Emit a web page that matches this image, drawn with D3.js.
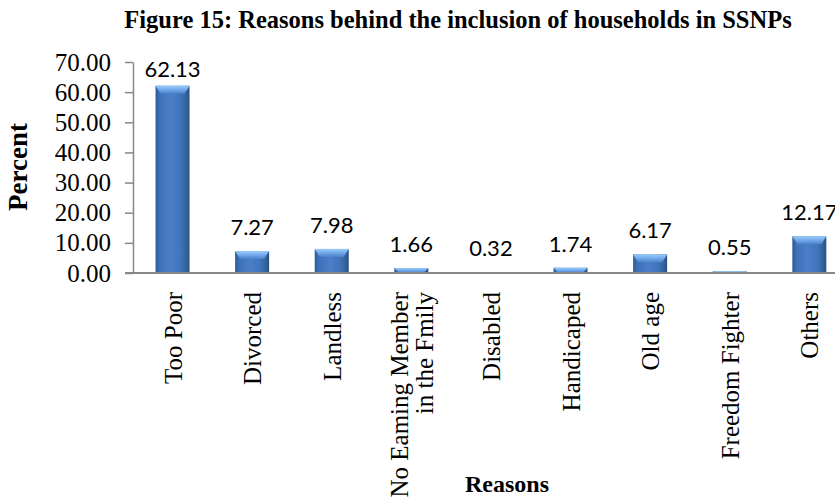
<!DOCTYPE html>
<html>
<head>
<meta charset="utf-8">
<script src="https://cdn.jsdelivr.net/npm/d3@7"></script>
<style>
  body { margin: 0; background: #fff; }
  svg { display: block; }
</style>
</head>
<body>
<svg id="chart" width="835" height="501"></svg>
<script>
// Reasons for inclusion of households in SSNPs (percent)
const categories = [
  ["Too Poor"],
  ["Divorced"],
  ["Landless"],
  ["No Eaming Member", "in the Fmily"],
  ["Disabled"],
  ["Handicaped"],
  ["Old age"],
  ["Freedom Fighter"],
  ["Others"]
];
const values = [62.13, 7.27, 7.98, 1.66, 0.32, 1.74, 6.17, 0.55, 12.17];
const yTicks = [0, 10, 20, 30, 40, 50, 60, 70];

const serif = "'Liberation Serif', 'Times New Roman', serif";
const svg = d3.select("#chart");
const plotLeft = 133, plotTop = 62, plotBottom = 273;
const step = 79.6;

const x = d3.scaleBand()
  .domain(d3.range(categories.length))
  .range([plotLeft, plotLeft + step * 8.993])
  .paddingInner(0.573)
  .paddingOuter(0.283);

const y = d3.scaleLinear().domain([0, 70]).range([plotBottom, plotTop]);

// Bar fill: darker sides, lighter centre, plus a lighter bevel on top
const defs = svg.append("defs");
const g1 = defs.append("linearGradient").attr("id", "barGrad")
  .attr("x1", "0").attr("x2", "1").attr("y1", "0").attr("y2", "0");
[[0, "#2c5a97"], [0.12, "#3e70b6"], [0.45, "#4a80c8"], [0.75, "#3f73bb"], [0.9, "#336399"], [1, "#284f85"]]
  .forEach(([o, c]) => g1.append("stop").attr("offset", o).attr("stop-color", c));
const g2 = defs.append("linearGradient").attr("id", "capGrad")
  .attr("x1", "0").attr("x2", "0").attr("y1", "0").attr("y2", "1");
[[0, "#9accf8"], [0.5, "#70a8ea"], [1, "#4a80c8"]]
  .forEach(([o, c]) => g2.append("stop").attr("offset", o).attr("stop-color", c));

// y axis
const yAxis = d3.axisLeft(y).tickValues(yTicks)
  .tickFormat(d3.format(".2f")).tickSize(8).tickSizeOuter(0);
const ya = svg.append("g").attr("transform", `translate(${plotLeft},0)`).call(yAxis);
ya.select(".domain").attr("stroke", "#888").attr("stroke-width", 1.5);
ya.selectAll(".tick line").attr("stroke", "#888").attr("stroke-width", 1.5);
ya.selectAll(".tick text")
  .attr("x", -22)
  .attr("dy", "0.32em")
  .attr("font-family", serif)
  .attr("font-size", 25).attr("fill", "#000");

// bars
const bars = svg.append("g");
categories.forEach((c, i) => {
  const bx = x(i), bw = x.bandwidth(), by = y(values[i]), bh = plotBottom - by;
  bars.append("rect").attr("x", bx).attr("y", by).attr("width", bw).attr("height", bh)
    .attr("fill", "url(#barGrad)");
  const cap = Math.min(8, bh);
  if (cap > 1.5) {
    bars.append("path")
      .attr("d", `M${bx},${by} L${bx + bw},${by} L${bx + bw - 5},${by + cap} L${bx + 5},${by + cap} Z`)
      .attr("fill", "url(#capGrad)");
  } else {
    bars.append("rect").attr("x", bx).attr("y", by).attr("width", bw).attr("height", Math.max(bh, 1))
      .attr("fill", "#7fa7d6");
  }
});

// value labels
svg.append("g").selectAll("text").data(values).join("text")
  .attr("x", (d, i) => x(i) + x.bandwidth() / 2)
  .attr("y", d => Math.max(y(d) - 16, 77))
  .attr("text-anchor", "middle")
  .attr("font-family", "Lato, 'Open Sans', sans-serif")
  .attr("font-size", 22).attr("fill", "#000")
  .text(d => d.toFixed(2));

// x axis baseline
svg.append("line").attr("x1", plotLeft - 8).attr("x2", 835)
  .attr("y1", plotBottom).attr("y2", plotBottom)
  .attr("stroke", "#888").attr("stroke-width", 2);

// category labels, rotated
const catG = svg.append("g");
categories.forEach((lines, i) => {
  const cx = x(i) + x.bandwidth() / 2;
  const t = catG.append("text")
    .attr("transform", `translate(${cx},${plotBottom + 19}) rotate(-90)`)
    .attr("text-anchor", "end")
    .attr("font-family", serif)
    .attr("font-size", 25).attr("fill", "#000");
  const n = lines.length;
  lines.forEach((s, k) => {
    t.append("tspan").attr("x", 0)
      .attr("y", (k - (n - 1) / 2) * 25 + 9)
      .text(s);
  });
});

// titles
svg.append("text").attr("x", 458).attr("y", 28).attr("text-anchor", "middle")
  .attr("font-family", serif)
  .attr("font-weight", "bold").attr("font-size", 24.5)
  .text("Figure 15: Reasons behind the inclusion of households in SSNPs");

svg.append("text").attr("transform", "translate(27,167) rotate(-90)")
  .attr("text-anchor", "middle")
  .attr("font-family", serif)
  .attr("font-weight", "bold").attr("font-size", 27)
  .text("Percent");

svg.append("text").attr("x", 507).attr("y", 492).attr("text-anchor", "middle")
  .attr("font-family", serif)
  .attr("font-weight", "bold").attr("font-size", 24)
  .text("Reasons");
</script>
</body>
</html>
